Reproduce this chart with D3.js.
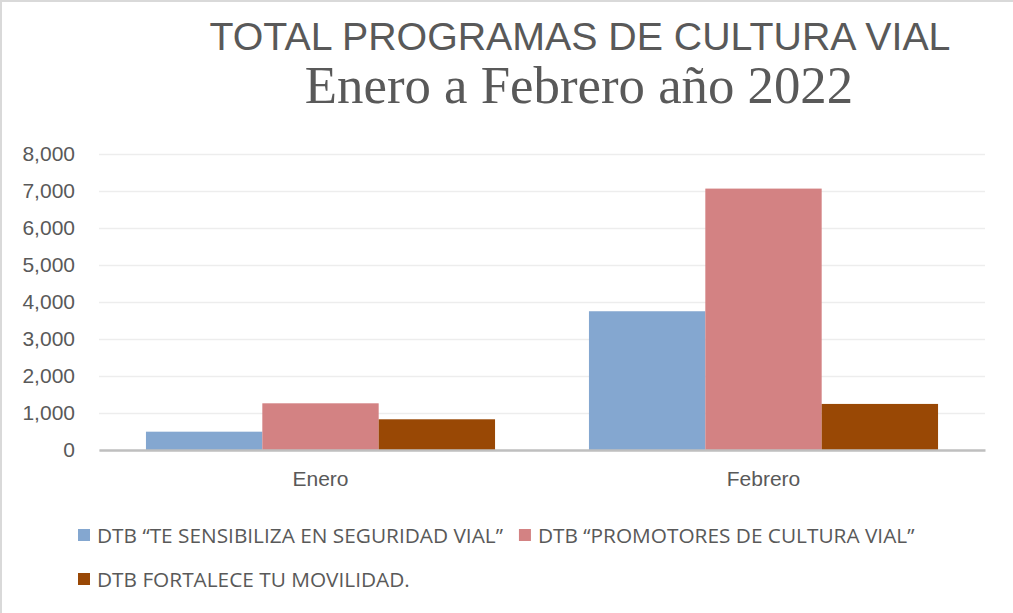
<!DOCTYPE html>
<html lang="es">
<head>
<meta charset="UTF-8">
<title>Total programas de cultura vial</title>
<script src="https://d3js.org/d3.v7.min.js"></script>
<style>
    body { margin: 0; background: #fff; }
    svg { display: block; font-family: "Open Sans", sans-serif; }
    .tick text { fill: #595959; font-size: 21px; }
    .legend text { fill: #595959; font-size: 20.8px; }
</style>
</head>
<body>
<svg width="1013" height="613"></svg>
<script>
    const months = ["Enero", "Febrero"];
    const seriesNames = [
        "DTB \u201cTE SENSIBILIZA EN SEGURIDAD VIAL\u201d",
        "DTB \u201cPROMOTORES DE CULTURA VIAL\u201d",
        "DTB FORTALECE TU MOVILIDAD."
    ];
    const sensibiliza = [495, 3750];
    const promotores = [1262, 7065];
    const fortalece = [830, 1245];
    const yTicks = [0, 1000, 2000, 3000, 4000, 5000, 6000, 7000, 8000];
    const colors = ["#84A7D0", "#D38283", "#994805"];

    const width = 1013, height = 613;
    const margin = { top: 154, right: 28, bottom: 163, left: 99 };

    const svg = d3.select("svg");

    // chart frame (only top and left edges show)
    svg.append("line").attr("x1", 0).attr("x2", width).attr("y1", 1).attr("y2", 1)
        .attr("stroke", "#D9D9D9").attr("stroke-width", 2);
    svg.append("line").attr("x1", 1).attr("x2", 1).attr("y1", 0).attr("y2", height)
        .attr("stroke", "#D9D9D9").attr("stroke-width", 2);

    svg.append("text")
        .attr("x", 580).attr("y", 50)
        .attr("text-anchor", "middle")
        .style("font-family", "'Liberation Sans', Arial, sans-serif")
        .style("font-size", "39.3px")
        .style("fill", "#595959")
        .text("TOTAL PROGRAMAS DE CULTURA VIAL");

    svg.append("text")
        .attr("x", 579).attr("y", 103)
        .attr("text-anchor", "middle")
        .style("font-family", "'Liberation Serif', 'Times New Roman', serif")
        .style("font-size", "52.8px")
        .style("fill", "#595959")
        .text("Enero a Febrero a\u00f1o 2022");

    const x0 = d3.scaleBand()
        .domain(months)
        .range([margin.left, width - margin.right])
        .paddingInner(0.212)
        .paddingOuter(0.106);

    const x1 = d3.scaleBand()
        .domain(d3.range(seriesNames.length))
        .range([0, x0.bandwidth()]);

    const y = d3.scaleLinear()
        .domain([0, 8000])
        .range([height - margin.bottom, margin.top]);

    // gridlines + y labels
    const yAxis = svg.append("g")
        .attr("transform", `translate(${margin.left},0)`)
        .call(d3.axisLeft(y)
            .tickValues(yTicks)
            .tickSize(-(width - margin.left - margin.right))
            .tickPadding(24)
            .tickFormat(d3.format(",")));
    yAxis.select(".domain").remove();
    yAxis.selectAll(".tick line").attr("stroke", "#EDEDED").attr("stroke-width", 1.5);

    const table = months.map((m, i) => ({
        month: m,
        values: [sensibiliza[i], promotores[i], fortalece[i]]
    }));

    svg.append("g").selectAll("g")
        .data(table)
        .join("g")
        .attr("transform", d => `translate(${x0(d.month)},0)`)
        .selectAll("rect")
        .data(d => d.values.map((v, k) => ({ k, v })))
        .join("rect")
        .attr("x", d => x1(d.k))
        .attr("width", x1.bandwidth())
        .attr("y", d => y(d.v))
        .attr("height", d => y(0) - y(d.v))
        .attr("fill", d => colors[d.k]);

    // category axis
    const xAxis = svg.append("g")
        .attr("transform", `translate(0,${y(0)})`)
        .call(d3.axisBottom(x0).tickSize(0).tickPadding(21));
    xAxis.select(".domain").attr("stroke", "#BFBFBF").attr("stroke-width", 2.5);

    // legend, flowing in rows
    const legend = svg.append("g").attr("class", "legend");
    const rows = [[0, 1], [2]];
    rows.forEach((row, r) => {
        let cx = 78;
        const cy = 535 + r * 44;
        row.forEach(k => {
            legend.append("rect")
                .attr("x", cx).attr("y", cy - 6)
                .attr("width", 12).attr("height", 12)
                .attr("fill", colors[k]);
            const t = legend.append("text")
                .attr("x", cx + 19).attr("y", cy)
                .attr("dominant-baseline", "central")
                .text(seriesNames[k]);
            cx += 19 + t.node().getComputedTextLength() + 16;
        });
    });
</script>
</body>
</html>
